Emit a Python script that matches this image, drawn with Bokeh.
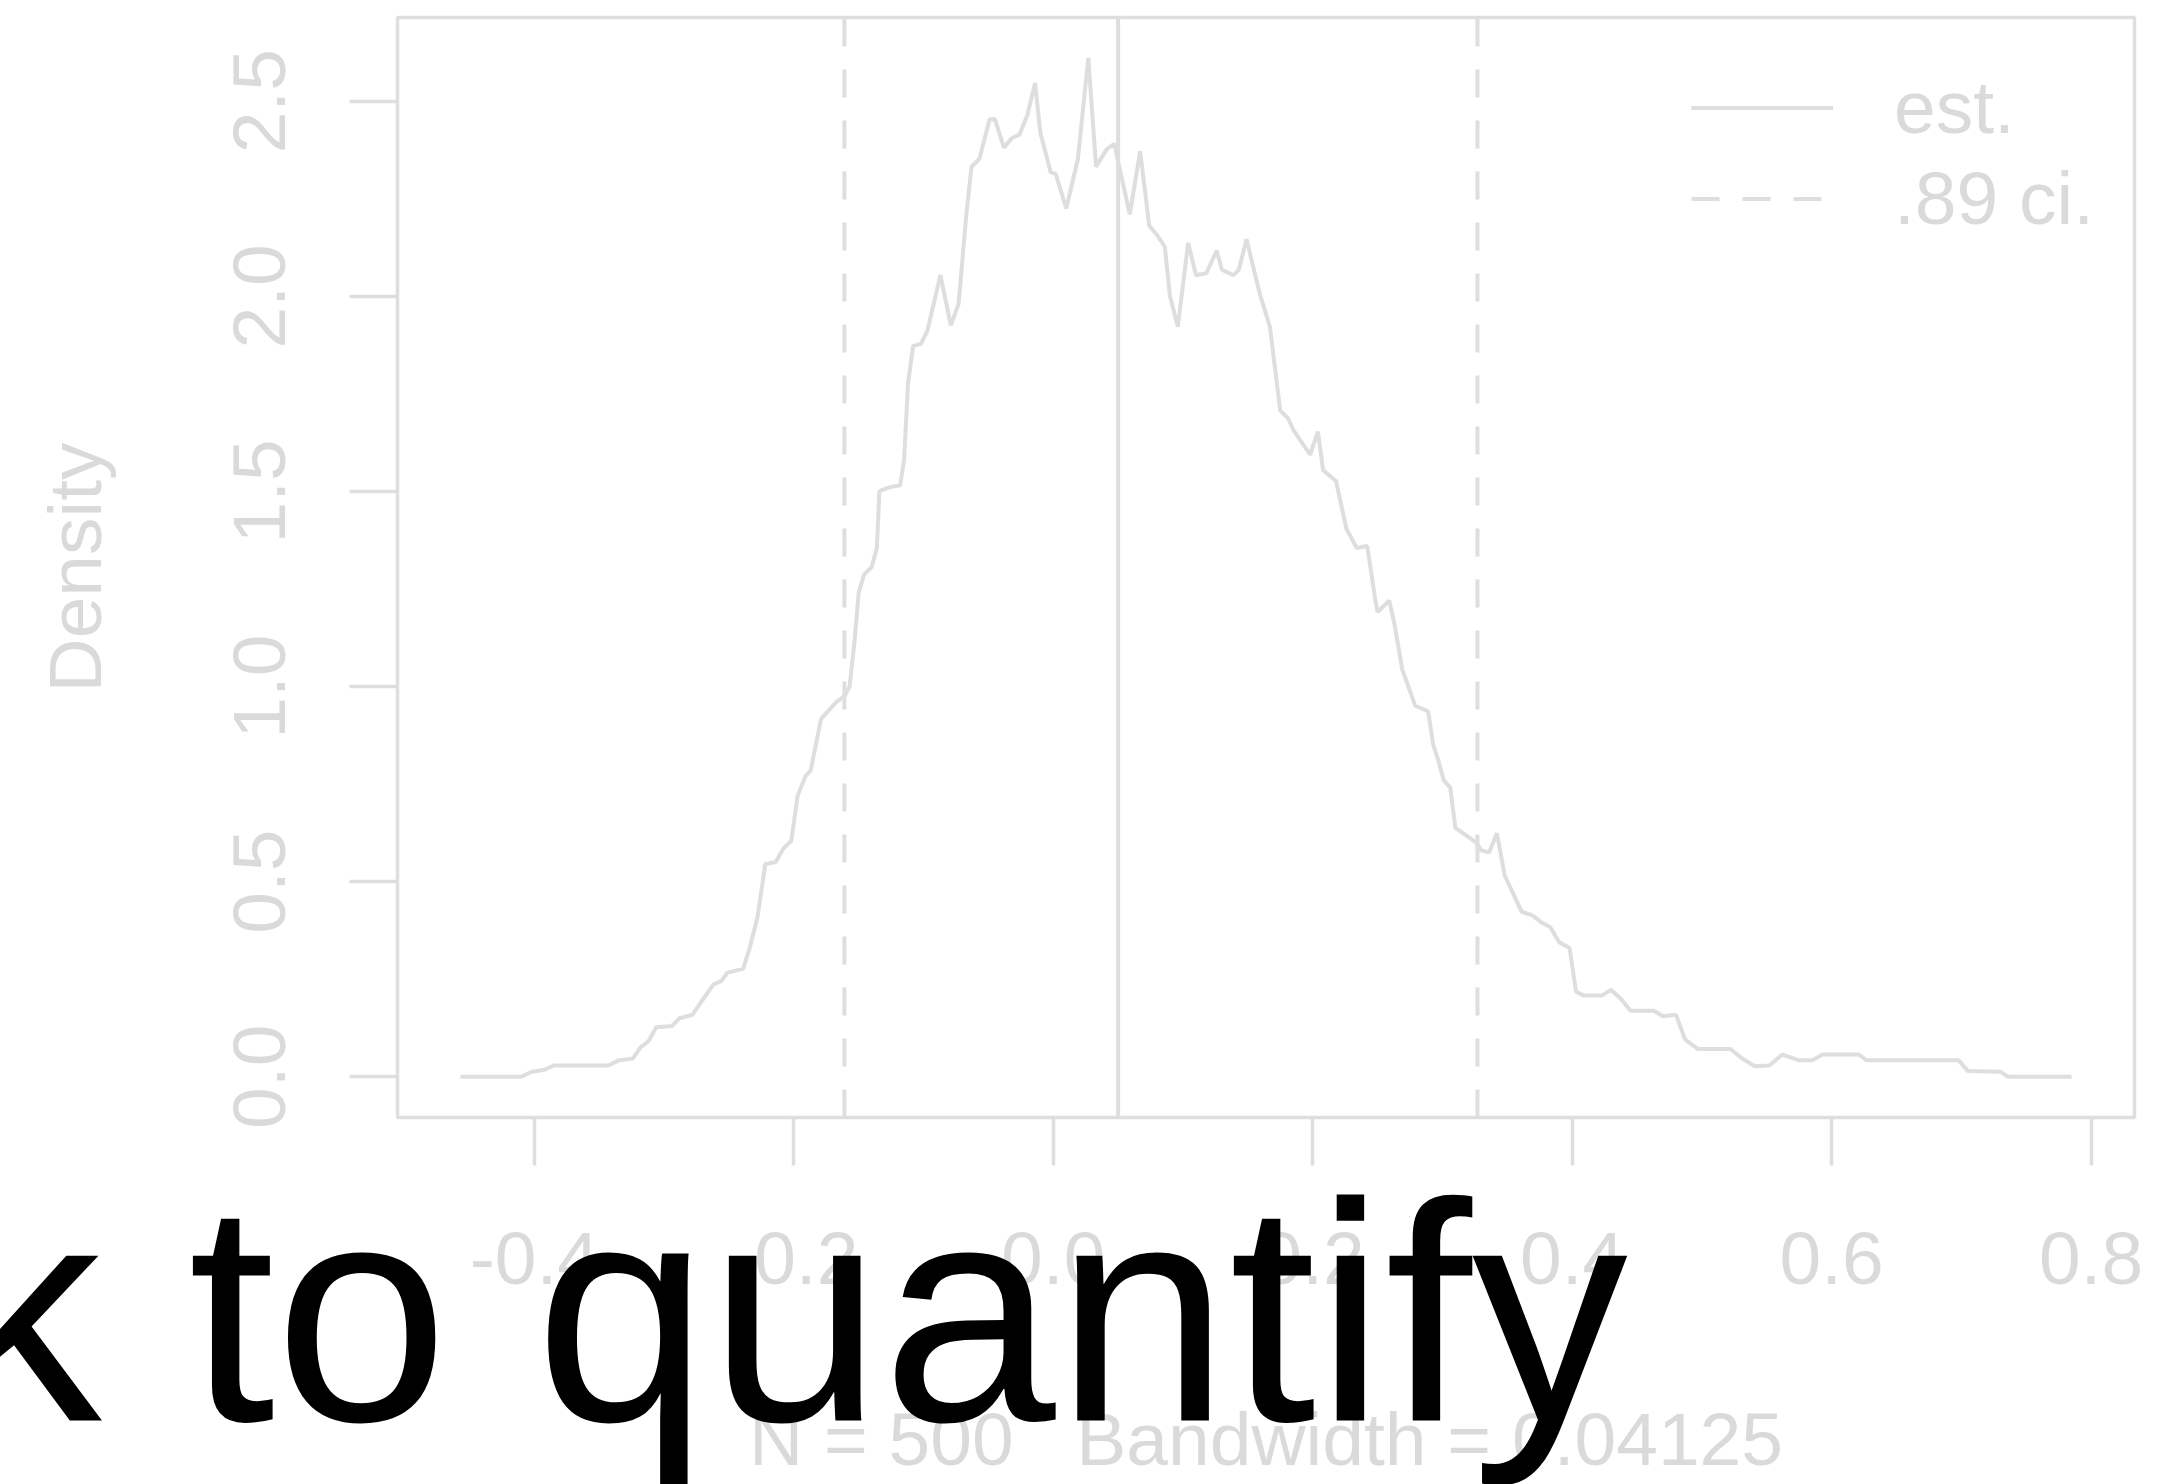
from bokeh.plotting import figure
from bokeh.core.properties import value
from bokeh.models import FixedTicker, Legend, LegendItem, Range1d, PrintfTickFormatter
from bokeh.embed import file_html
from bokeh.resources import INLINE

# ---- data ----
dens_x = [-0.457, -0.410, -0.402, -0.392, -0.385, -0.343, -0.335, -0.324, -0.318, -0.312,
          -0.306, -0.294, -0.288, -0.278, -0.272, -0.262, -0.256, -0.251, -0.239, -0.234,
          -0.228, -0.222, -0.214, -0.208, -0.202, -0.197, -0.191, -0.187, -0.179, -0.175,
          -0.167, -0.161, -0.157, -0.153, -0.150, -0.146, -0.140, -0.136, -0.134, -0.126,
          -0.118, -0.115, -0.112, -0.108, -0.102, -0.097, -0.087, -0.079, -0.073, -0.067,
          -0.063, -0.057, -0.049, -0.045, -0.038, -0.032, -0.026, -0.020, -0.014, -0.010,
          -0.002, 0.002, 0.010, 0.019, 0.027, 0.033, 0.041, 0.047, 0.059, 0.067,
          0.074, 0.080, 0.086, 0.090, 0.096, 0.104, 0.110, 0.118, 0.126, 0.130,
          0.139, 0.143, 0.149, 0.159, 0.167, 0.175, 0.181, 0.185, 0.198, 0.204,
          0.208, 0.218, 0.226, 0.234, 0.242, 0.248, 0.250, 0.259, 0.263, 0.269,
          0.279, 0.289, 0.293, 0.297, 0.301, 0.306, 0.310, 0.318, 0.326, 0.330,
          0.336, 0.342, 0.348, 0.361, 0.369, 0.377, 0.383, 0.390, 0.398, 0.403,
          0.409, 0.423, 0.430, 0.438, 0.445, 0.463, 0.470, 0.480, 0.487, 0.497,
          0.522, 0.531, 0.541, 0.552, 0.562, 0.575, 0.585, 0.593, 0.621, 0.627,
          0.698, 0.705, 0.730, 0.736, 0.785]
dens_y = [0.000, 0.000, 0.013, 0.018, 0.029, 0.029, 0.042, 0.047, 0.076, 0.091,
          0.127, 0.130, 0.150, 0.159, 0.189, 0.236, 0.245, 0.267, 0.277, 0.330,
          0.409, 0.545, 0.550, 0.585, 0.604, 0.721, 0.770, 0.785, 0.917, 0.932,
          0.961, 0.975, 1.000, 1.122, 1.240, 1.286, 1.306, 1.355, 1.501, 1.511,
          1.516, 1.580, 1.775, 1.873, 1.878, 1.912, 2.054, 1.926, 1.980, 2.210,
          2.332, 2.352, 2.454, 2.454, 2.381, 2.405, 2.415, 2.464, 2.547, 2.420,
          2.318, 2.313, 2.225, 2.352, 2.611, 2.332, 2.376, 2.391, 2.210, 2.372,
          2.181, 2.157, 2.127, 2.000, 1.922, 2.137, 2.054, 2.059, 2.117, 2.068,
          2.054, 2.068, 2.146, 2.009, 1.922, 1.707, 1.687, 1.658, 1.594, 1.653,
          1.555, 1.526, 1.404, 1.355, 1.360, 1.228, 1.191, 1.220, 1.161, 1.044,
          0.951, 0.936, 0.849, 0.809, 0.760, 0.741, 0.638, 0.619, 0.600, 0.580,
          0.575, 0.624, 0.516, 0.423, 0.414, 0.394, 0.384, 0.345, 0.330, 0.218,
          0.208, 0.208, 0.223, 0.198, 0.169, 0.169, 0.155, 0.159, 0.096, 0.071,
          0.071, 0.047, 0.027, 0.029, 0.057, 0.042, 0.042, 0.057, 0.057, 0.042,
          0.042, 0.015, 0.013, 0.000, 0.000]
est_value = [0.050]
ci_values = [-0.161, 0.327]
x_ticks = [-0.4, -0.2, 0.0, 0.2, 0.4, 0.6, 0.8]
x_tick_labels = ["-0.4", "-0.2", "0.0", "0.2", "0.4", "0.6", "0.8"]
y_ticks = [0.0, 0.5, 1.0, 1.5, 2.0, 2.5]
y_tick_labels = ["0.0", "0.5", "1.0", "1.5", "2.0", "2.5"]
x_title = "N = 500\u00a0\u00a0\u00a0Bandwidth = 0.04125"
y_title = "Density"
legend_labels = ["est.", ".89 ci."]
overlay_text = ["k to quantify"]

# ---- style / layout ----
GRAY = "#dedede"
TXT = "#dadada"
FONT = "Liberation Sans"
FS = "75px"

W, H = 2177, 1484
B_LEFT, B_RIGHT, B_TOP, B_BOTTOM = 397, 43, 17, 367
FRAME_W = W - B_LEFT - B_RIGHT
FRAME_H = H - B_TOP - B_BOTTOM

x0, x1 = -0.5055, 0.8335
y0, y1 = -0.1044, 2.7145

p = figure(width=W, height=H, output_backend="svg", toolbar_location=None,
           x_range=Range1d(x0, x1), y_range=Range1d(y0, y1),
           min_border_left=B_LEFT, min_border_right=B_RIGHT,
           min_border_top=B_TOP, min_border_bottom=B_BOTTOM)
p.xgrid.visible = False
p.ygrid.visible = False
p.outline_line_color = GRAY
p.outline_line_width = 3.5
p.background_fill_color = "white"
p.border_fill_color = "white"

for ax in (p.xaxis[0], p.yaxis[0]):
    ax.axis_line_color = None
    ax.major_tick_line_color = GRAY
    ax.major_tick_line_width = 3.5
    ax.major_tick_out = 48
    ax.major_tick_in = 0
    ax.minor_tick_line_color = None
    ax.major_label_text_font = FONT
    ax.major_label_text_font_size = FS
    ax.major_label_text_color = TXT
    ax.axis_label_text_font = FONT
    ax.axis_label_text_font_size = FS
    ax.axis_label_text_color = TXT
    ax.axis_label_text_font_style = "normal"
    ax.formatter = PrintfTickFormatter(format="%.1f")

p.xaxis.ticker = FixedTicker(ticks=x_ticks)
p.xaxis.major_label_overrides = dict(zip(x_ticks, x_tick_labels))
p.xaxis.major_label_standoff = 67
p.xaxis.axis_label = x_title
p.xaxis.axis_label_standoff = 110

p.yaxis.ticker = FixedTicker(ticks=y_ticks)
p.yaxis.major_label_overrides = dict(zip(y_ticks, y_tick_labels))
p.yaxis.major_label_orientation = "vertical"
p.yaxis.major_label_standoff = 64
p.yaxis.axis_label = y_title
p.yaxis.axis_label_standoff = 115

p.line(dens_x, dens_y, line_color=GRAY, line_width=4)
r_est = p.segment(x0=est_value, y0=[y0] * len(est_value), x1=est_value, y1=[y1] * len(est_value),
                  line_color=GRAY, line_width=4)
r_ci = p.segment(x0=ci_values, y0=[y0] * len(ci_values), x1=ci_values, y1=[y1] * len(ci_values),
                 line_color=GRAY, line_width=4, line_dash="28 23")

legend = Legend(items=[LegendItem(label=legend_labels[0], renderers=[r_est]),
                       LegendItem(label=legend_labels[1], renderers=[r_ci])],
                location=(1294, 873.5), border_line_color=None, background_fill_alpha=0,
                padding=0, spacing=0, margin=0, glyph_width=142, glyph_height=91,
                label_height=91, label_standoff=61, label_text_font=FONT,
                label_text_font_size=FS, label_text_color=TXT)
p.add_layout(legend, "center")

# large black caption text lying across the bottom of the page (page pixel position -> data)
cap_px, cap_py = -55, 1312
cap_x = x0 + (cap_px - B_LEFT) * (x1 - x0) / FRAME_W
cap_y = y0 - (cap_py - (B_TOP + FRAME_H)) * (y1 - y0) / FRAME_H
p.text(x=[cap_x], y=[cap_y], text=overlay_text, level="overlay",
       text_font=value(FONT), text_font_size=value("312px"), text_color="black",
       text_baseline="alphabetic", text_align="left")

with open("out.html", "w", encoding="utf-8") as f:
    f.write(file_html(p, INLINE))
